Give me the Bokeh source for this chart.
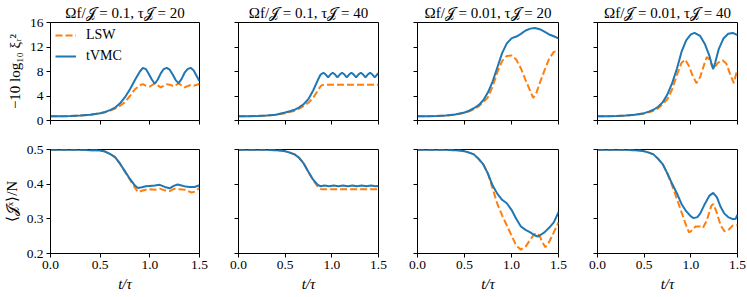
import math
from bokeh.plotting import figure
from bokeh.layouts import gridplot
from bokeh.models import (FixedTicker, PrintfTickFormatter, Range1d, Legend, LegendItem,
                          CustomLabelingPolicy)
from bokeh.embed import file_html
from bokeh.resources import INLINE

# ---------------- data ----------------
titles = ["Ωf/𝒥 = 0.1, τ𝒥 = 20", "Ωf/𝒥 = 0.1, τ𝒥 = 40",
          "Ωf/𝒥 = 0.01, τ𝒥 = 20", "Ωf/𝒥 = 0.01, τ𝒥 = 40"]
x_ticks = [0.0, 0.5, 1.0, 1.5]
sq_ticks = [0, 4, 8, 12, 16]
jx_ticks = [0.2, 0.3, 0.4, 0.5]

# squeezing, panel 1
sq1_t_tvmc = [0, 0.1, 0.2, 0.3, 0.4, 0.5, 0.55, 0.6, 0.65, 0.7, 0.75, 0.8, 0.85, 0.9, 0.93, 0.96, 0.99, 1.02,
              1.05, 1.08, 1.11, 1.14, 1.17, 1.20, 1.23, 1.26, 1.29, 1.32, 1.35, 1.38, 1.41, 1.44, 1.47, 1.50]
sq1_tvmc = [0.7, 0.7, 0.72, 0.8, 0.95, 1.2, 1.4, 1.7, 2.1, 2.8, 3.8, 5.1, 6.6, 8.0, 8.6, 8.4, 7.6, 6.7,
            6.0, 6.7, 7.7, 8.4, 8.6, 8.3, 7.5, 6.6, 6.1, 6.8, 7.8, 8.4, 8.6, 8.2, 7.3, 6.4]
sq1_t_lsw = [0, 0.1, 0.2, 0.3, 0.4, 0.5, 0.55, 0.6, 0.65, 0.7, 0.75, 0.8, 0.85, 0.9, 0.93, 0.97, 1.0, 1.05,
             1.11, 1.17, 1.2, 1.24, 1.29, 1.35, 1.41, 1.45, 1.5]
sq1_lsw = [0.7, 0.7, 0.72, 0.8, 0.93, 1.15, 1.35, 1.6, 1.95, 2.4, 3.0, 4.0, 5.1, 5.75, 5.95, 5.6, 5.55, 6.05,
           5.4, 5.9, 5.85, 5.6, 6.05, 5.4, 5.8, 5.7, 6.0]

# squeezing, panel 2
sq2_t_tvmc = [0, 0.1, 0.2, 0.3, 0.4, 0.5, 0.55, 0.6, 0.65, 0.7, 0.75, 0.8, 0.85, 0.88, 0.91, 0.935, 0.96,
              0.985, 1.01, 1.035, 1.06, 1.085, 1.11, 1.135, 1.16, 1.185, 1.21, 1.235, 1.26, 1.285, 1.31,
              1.335, 1.36, 1.385, 1.41, 1.435, 1.46, 1.485, 1.5]
sq2_tvmc = [0.7, 0.7, 0.72, 0.8, 0.95, 1.3, 1.5, 1.75, 2.15, 2.7, 3.5, 4.9, 6.6, 7.5, 7.8, 7.5, 7.05,
            7.5, 7.8, 7.5, 7.05, 7.5, 7.8, 7.5, 7.05, 7.5, 7.8, 7.5, 7.05, 7.5, 7.8,
            7.5, 7.05, 7.5, 7.8, 7.5, 7.05, 7.5, 7.7]
sq2_t_lsw = [0, 0.1, 0.2, 0.3, 0.4, 0.5, 0.55, 0.6, 0.65, 0.7, 0.75, 0.8, 0.85, 0.88, 0.9, 0.95, 1.0, 1.5]
sq2_lsw = [0.7, 0.7, 0.72, 0.8, 0.93, 1.2, 1.4, 1.6, 1.95, 2.4, 2.9, 3.7, 4.9, 5.6, 5.8, 5.85, 5.85, 5.85]

# squeezing, panel 3
sq3_t_tvmc = [0, 0.1, 0.2, 0.3, 0.4, 0.5, 0.55, 0.6, 0.65, 0.7, 0.75, 0.8, 0.85, 0.9, 0.95, 1.0, 1.03, 1.06,
              1.1, 1.15, 1.2, 1.25, 1.3, 1.35, 1.4, 1.45, 1.5]
sq3_tvmc = [0.7, 0.7, 0.72, 0.8, 0.97, 1.3, 1.6, 2.0, 2.5, 3.3, 4.6, 6.4, 8.7, 11.0, 12.6, 13.4, 13.6, 13.75,
            14.15, 14.7, 15.0, 15.1, 14.9, 14.5, 14.05, 13.75, 13.4]
sq3_t_lsw = [0, 0.1, 0.2, 0.3, 0.4, 0.5, 0.55, 0.6, 0.65, 0.7, 0.75, 0.8, 0.85, 0.9, 0.95, 1.0, 1.05, 1.1,
             1.15, 1.2, 1.23, 1.26, 1.3, 1.35, 1.4, 1.45, 1.47, 1.5]
sq3_lsw = [0.7, 0.7, 0.72, 0.8, 0.95, 1.25, 1.5, 1.85, 2.3, 3.0, 3.8, 5.6, 7.9, 9.7, 10.55, 10.6, 9.95, 8.5,
           6.6, 4.8, 3.7, 4.3, 6.1, 8.15, 10.05, 11.2, 11.3, 11.1]

# squeezing, panel 4
sq4_t_tvmc = [0, 0.1, 0.2, 0.3, 0.4, 0.5, 0.55, 0.6, 0.65, 0.7, 0.75, 0.8, 0.85, 0.9, 0.95, 1.0, 1.04, 1.1,
              1.15, 1.2, 1.22, 1.24, 1.26, 1.3, 1.35, 1.4, 1.45, 1.5]
sq4_tvmc = [0.7, 0.7, 0.72, 0.8, 0.95, 1.2, 1.45, 1.75, 2.25, 3.0, 4.3, 6.1, 8.4, 11.2, 13.1, 14.05, 14.3, 13.8,
            12.5, 10.5, 9.4, 8.4, 9.4, 11.7, 13.4, 14.15, 14.3, 13.95]
sq4_t_lsw = [0, 0.1, 0.2, 0.3, 0.4, 0.5, 0.55, 0.6, 0.65, 0.7, 0.75, 0.8, 0.85, 0.9, 0.94, 0.98, 1.02, 1.06,
             1.1, 1.14, 1.17, 1.2, 1.24, 1.29, 1.34, 1.38, 1.42, 1.46, 1.5]
sq4_lsw = [0.7, 0.7, 0.72, 0.8, 0.93, 1.15, 1.35, 1.6, 2.0, 2.7, 3.5, 5.1, 7.4, 9.4, 9.95, 8.9, 7.3, 6.1,
           7.1, 9.0, 10.35, 9.95, 8.4, 9.4, 9.85, 9.3, 7.6, 6.1, 8.4]

# <Jx>/N, panel 1
jx1_t_tvmc = [0, 0.1, 0.2, 0.3, 0.4, 0.45, 0.5, 0.55, 0.6, 0.65, 0.7, 0.75, 0.8, 0.85, 0.88, 0.92, 0.96, 1.0,
              1.05, 1.1, 1.15, 1.2, 1.24, 1.28, 1.32, 1.36, 1.4, 1.45, 1.5]
jx1_tvmc = [0.499, 0.499, 0.499, 0.499, 0.498, 0.498, 0.497, 0.494, 0.487, 0.478, 0.459, 0.437, 0.415, 0.396,
            0.389, 0.391, 0.394, 0.395, 0.396, 0.398, 0.392, 0.388, 0.395, 0.399, 0.396, 0.393, 0.392, 0.392, 0.397]
jx1_t_lsw = [0, 0.1, 0.2, 0.3, 0.4, 0.45, 0.5, 0.55, 0.6, 0.65, 0.7, 0.75, 0.8, 0.85, 0.88, 0.92, 0.96, 1.0,
             1.05, 1.1, 1.15, 1.2, 1.25, 1.3, 1.35, 1.42, 1.46, 1.5]
jx1_lsw = [0.499, 0.499, 0.499, 0.499, 0.498, 0.498, 0.497, 0.494, 0.487, 0.478, 0.459, 0.436, 0.413, 0.39,
           0.377, 0.381, 0.384, 0.385, 0.384, 0.387, 0.382, 0.380, 0.387, 0.385, 0.384, 0.376, 0.379, 0.39]

# <Jx>/N, panel 2
jx2_t_tvmc = [0, 0.1, 0.2, 0.3, 0.4, 0.45, 0.5, 0.55, 0.6, 0.65, 0.7, 0.75, 0.8, 0.85, 0.88, 0.92, 0.97, 1.02,
              1.07, 1.12, 1.17, 1.22, 1.27, 1.32, 1.37, 1.42, 1.47, 1.5]
jx2_tvmc = [0.499, 0.499, 0.499, 0.499, 0.498, 0.497, 0.495, 0.491, 0.486, 0.476, 0.459, 0.435, 0.413, 0.398,
            0.394, 0.396, 0.394, 0.396, 0.394, 0.396, 0.394, 0.396, 0.394, 0.396, 0.394, 0.396, 0.394, 0.395]
jx2_t_lsw = [0, 0.1, 0.2, 0.3, 0.4, 0.45, 0.5, 0.55, 0.6, 0.65, 0.7, 0.75, 0.8, 0.85, 0.88, 0.9, 1.0, 1.5]
jx2_lsw = [0.499, 0.499, 0.499, 0.499, 0.498, 0.497, 0.495, 0.491, 0.486, 0.476, 0.459, 0.435, 0.411, 0.393,
           0.386, 0.385, 0.385, 0.385]

# <Jx>/N, panel 3
jx3_t_tvmc = [0, 0.1, 0.2, 0.3, 0.4, 0.45, 0.5, 0.55, 0.6, 0.65, 0.7, 0.75, 0.8, 0.85, 0.9, 0.95, 1.0, 1.05,
              1.1, 1.15, 1.2, 1.25, 1.28, 1.3, 1.35, 1.4, 1.45, 1.5]
jx3_tvmc = [0.499, 0.499, 0.499, 0.499, 0.498, 0.497, 0.495, 0.491, 0.486, 0.473, 0.457, 0.43, 0.396, 0.372,
            0.355, 0.345, 0.326, 0.30, 0.278, 0.268, 0.261, 0.252, 0.249, 0.252, 0.261, 0.274, 0.29, 0.319]
jx3_t_lsw = [0, 0.1, 0.2, 0.3, 0.4, 0.45, 0.5, 0.55, 0.6, 0.65, 0.7, 0.75, 0.8, 0.85, 0.9, 0.95, 1.0, 1.05,
             1.1, 1.15, 1.2, 1.24, 1.27, 1.3, 1.33, 1.36, 1.4, 1.45, 1.5]
jx3_lsw = [0.499, 0.499, 0.499, 0.499, 0.498, 0.497, 0.495, 0.491, 0.486, 0.473, 0.457, 0.43, 0.387, 0.343,
           0.31, 0.281, 0.252, 0.223, 0.211, 0.22, 0.24, 0.255, 0.259, 0.25, 0.232, 0.218, 0.233, 0.261, 0.29]

# <Jx>/N, panel 4
jx4_t_tvmc = [0, 0.1, 0.2, 0.3, 0.4, 0.45, 0.5, 0.55, 0.6, 0.65, 0.7, 0.75, 0.8, 0.85, 0.9, 0.95, 1.0, 1.03,
              1.07, 1.1, 1.15, 1.2, 1.24, 1.28, 1.32, 1.36, 1.4, 1.45, 1.48, 1.5]
jx4_tvmc = [0.499, 0.499, 0.499, 0.499, 0.498, 0.497, 0.495, 0.491, 0.486, 0.473, 0.457, 0.43, 0.401, 0.374,
            0.343, 0.322, 0.307, 0.302, 0.305, 0.315, 0.343, 0.367, 0.375, 0.362, 0.334, 0.315, 0.305, 0.299,
            0.30, 0.312]
jx4_t_lsw = [0, 0.1, 0.2, 0.3, 0.4, 0.45, 0.5, 0.55, 0.6, 0.65, 0.7, 0.75, 0.8, 0.85, 0.9, 0.95, 0.98, 1.0,
             1.05, 1.1, 1.13, 1.17, 1.22, 1.24, 1.27, 1.32, 1.36, 1.4, 1.45, 1.5]
jx4_lsw = [0.499, 0.499, 0.499, 0.499, 0.498, 0.497, 0.495, 0.491, 0.486, 0.473, 0.457, 0.43, 0.396, 0.358,
           0.319, 0.281, 0.261, 0.264, 0.278, 0.278, 0.274, 0.295, 0.338, 0.343, 0.324, 0.281, 0.264, 0.267,
           0.281, 0.282]

sq_data = [(sq1_t_lsw, sq1_lsw, sq1_t_tvmc, sq1_tvmc), (sq2_t_lsw, sq2_lsw, sq2_t_tvmc, sq2_tvmc),
           (sq3_t_lsw, sq3_lsw, sq3_t_tvmc, sq3_tvmc), (sq4_t_lsw, sq4_lsw, sq4_t_tvmc, sq4_tvmc)]
jx_data = [(jx1_t_lsw, jx1_lsw, jx1_t_tvmc, jx1_tvmc), (jx2_t_lsw, jx2_lsw, jx2_t_tvmc, jx2_tvmc),
           (jx3_t_lsw, jx3_lsw, jx3_t_tvmc, jx3_tvmc), (jx4_t_lsw, jx4_lsw, jx4_t_tvmc, jx4_tvmc)]

# ---------------- styling ----------------
SERIF = "'Liberation Serif', serif"
BLUE = "#1f77b4"
ORANGE = "#ff7f0e"
FRAME_W = 151
FRAME_H = 104
COL_BORDERS = [(48, 12), (16, 12), (17, 12), (16, 10)]
ROW_BORDERS = [(22, 12), (11, 44)]

HIDE_LABELS = "for (const i of indices) { indices.unset(i) }\nreturn indices"


def style_axis(ax, ticks, fmt, show_labels):
    ax.ticker = FixedTicker(ticks=ticks)
    ax.formatter = PrintfTickFormatter(format=fmt)
    ax.major_tick_in = 0
    ax.major_tick_out = 4
    ax.minor_tick_line_color = None
    ax.major_tick_line_color = "black"
    ax.axis_line_color = "black"
    ax.major_label_text_font = SERIF
    ax.major_label_text_color = "black"
    ax.major_label_standoff = 3
    ax.axis_label_standoff = 4
    ax.axis_label_text_font = SERIF
    ax.axis_label_text_color = "black"
    ax.axis_label_text_font_size = "15px"
    ax.major_label_text_font_size = "13.5px"
    if not show_labels:
        ax.major_label_policy = CustomLabelingPolicy(code=HIDE_LABELS)


rows = []
for r in range(2):
    row_figs = []
    for c in range(4):
        bl, br = COL_BORDERS[c]
        bt, bb = ROW_BORDERS[r]
        if r == 0:
            yr = Range1d(sq_ticks[0], sq_ticks[-1])
            yt, yfmt = sq_ticks, "%d"
            data = sq_data[c]
        else:
            yr = Range1d(jx_ticks[0], jx_ticks[-1])
            yt, yfmt = jx_ticks, "%.1f"
            data = jx_data[c]
        p = figure(width=bl + FRAME_W + br, height=bt + FRAME_H + bb,
                   x_range=Range1d(x_ticks[0], x_ticks[-1]), y_range=yr,
                   output_backend="svg", toolbar_location=None,
                   min_border_left=bl, min_border_right=br, min_border_top=bt, min_border_bottom=bb)
        p.grid.visible = False
        p.outline_line_color = "black"
        p.outline_line_width = 1
        p.outline_line_alpha = 1
        p.background_fill_color = "white"
        p.border_fill_color = "white"
        if r == 0:
            p.title.text = titles[c]
            p.title.text_font = SERIF
            p.title.text_font_size = "15px"
            p.title.text_font_style = "normal"
            p.title.text_color = "black"
            p.title.align = "center"
            p.title.standoff = 4
        style_axis(p.xaxis[0], x_ticks, "%.1f", r == 1)
        style_axis(p.yaxis[0], yt, yfmt, c == 0)
        if r == 1:
            p.xaxis[0].axis_label = "t/τ"
            p.xaxis[0].axis_label_text_font_style = "italic"
        if c == 0:
            p.yaxis[0].axis_label = "−10 log₁₀ ξᵣ²" if r == 0 else "⟨𝒥ˣ⟩/N"
            p.yaxis[0].axis_label_text_font_style = "normal"

        t_l, v_l, t_t, v_t = data
        r_lsw = p.line(t_l, v_l, line_color=ORANGE, line_width=2, line_dash="7 3")
        r_tvmc = p.line(t_t, v_t, line_color=BLUE, line_width=2)
        if r == 0 and c == 0:
            r_bar = p.scatter(x=[], y=[], marker="dash", angle=math.pi / 2, size=12,
                              line_color=BLUE, line_width=2)
            legend = Legend(items=[LegendItem(label="LSW", renderers=[r_lsw]),
                                   LegendItem(label="tVMC", renderers=[r_tvmc, r_bar])],
                            location="top_left")
            legend.border_line_color = None
            legend.background_fill_alpha = 0
            legend.label_text_font = SERIF
            legend.label_text_font_size = "14px"
            legend.label_text_color = "black"
            legend.glyph_width = 21
            legend.glyph_height = 14
            legend.label_standoff = 10
            legend.label_height = 14
            legend.padding = 6
            legend.margin = 5
            legend.spacing = 5
            p.add_layout(legend)
        row_figs.append(p)
    rows.append(row_figs)

grid = gridplot(rows, toolbar_location=None)

open("out.html", "w").write(file_html(grid, INLINE))
